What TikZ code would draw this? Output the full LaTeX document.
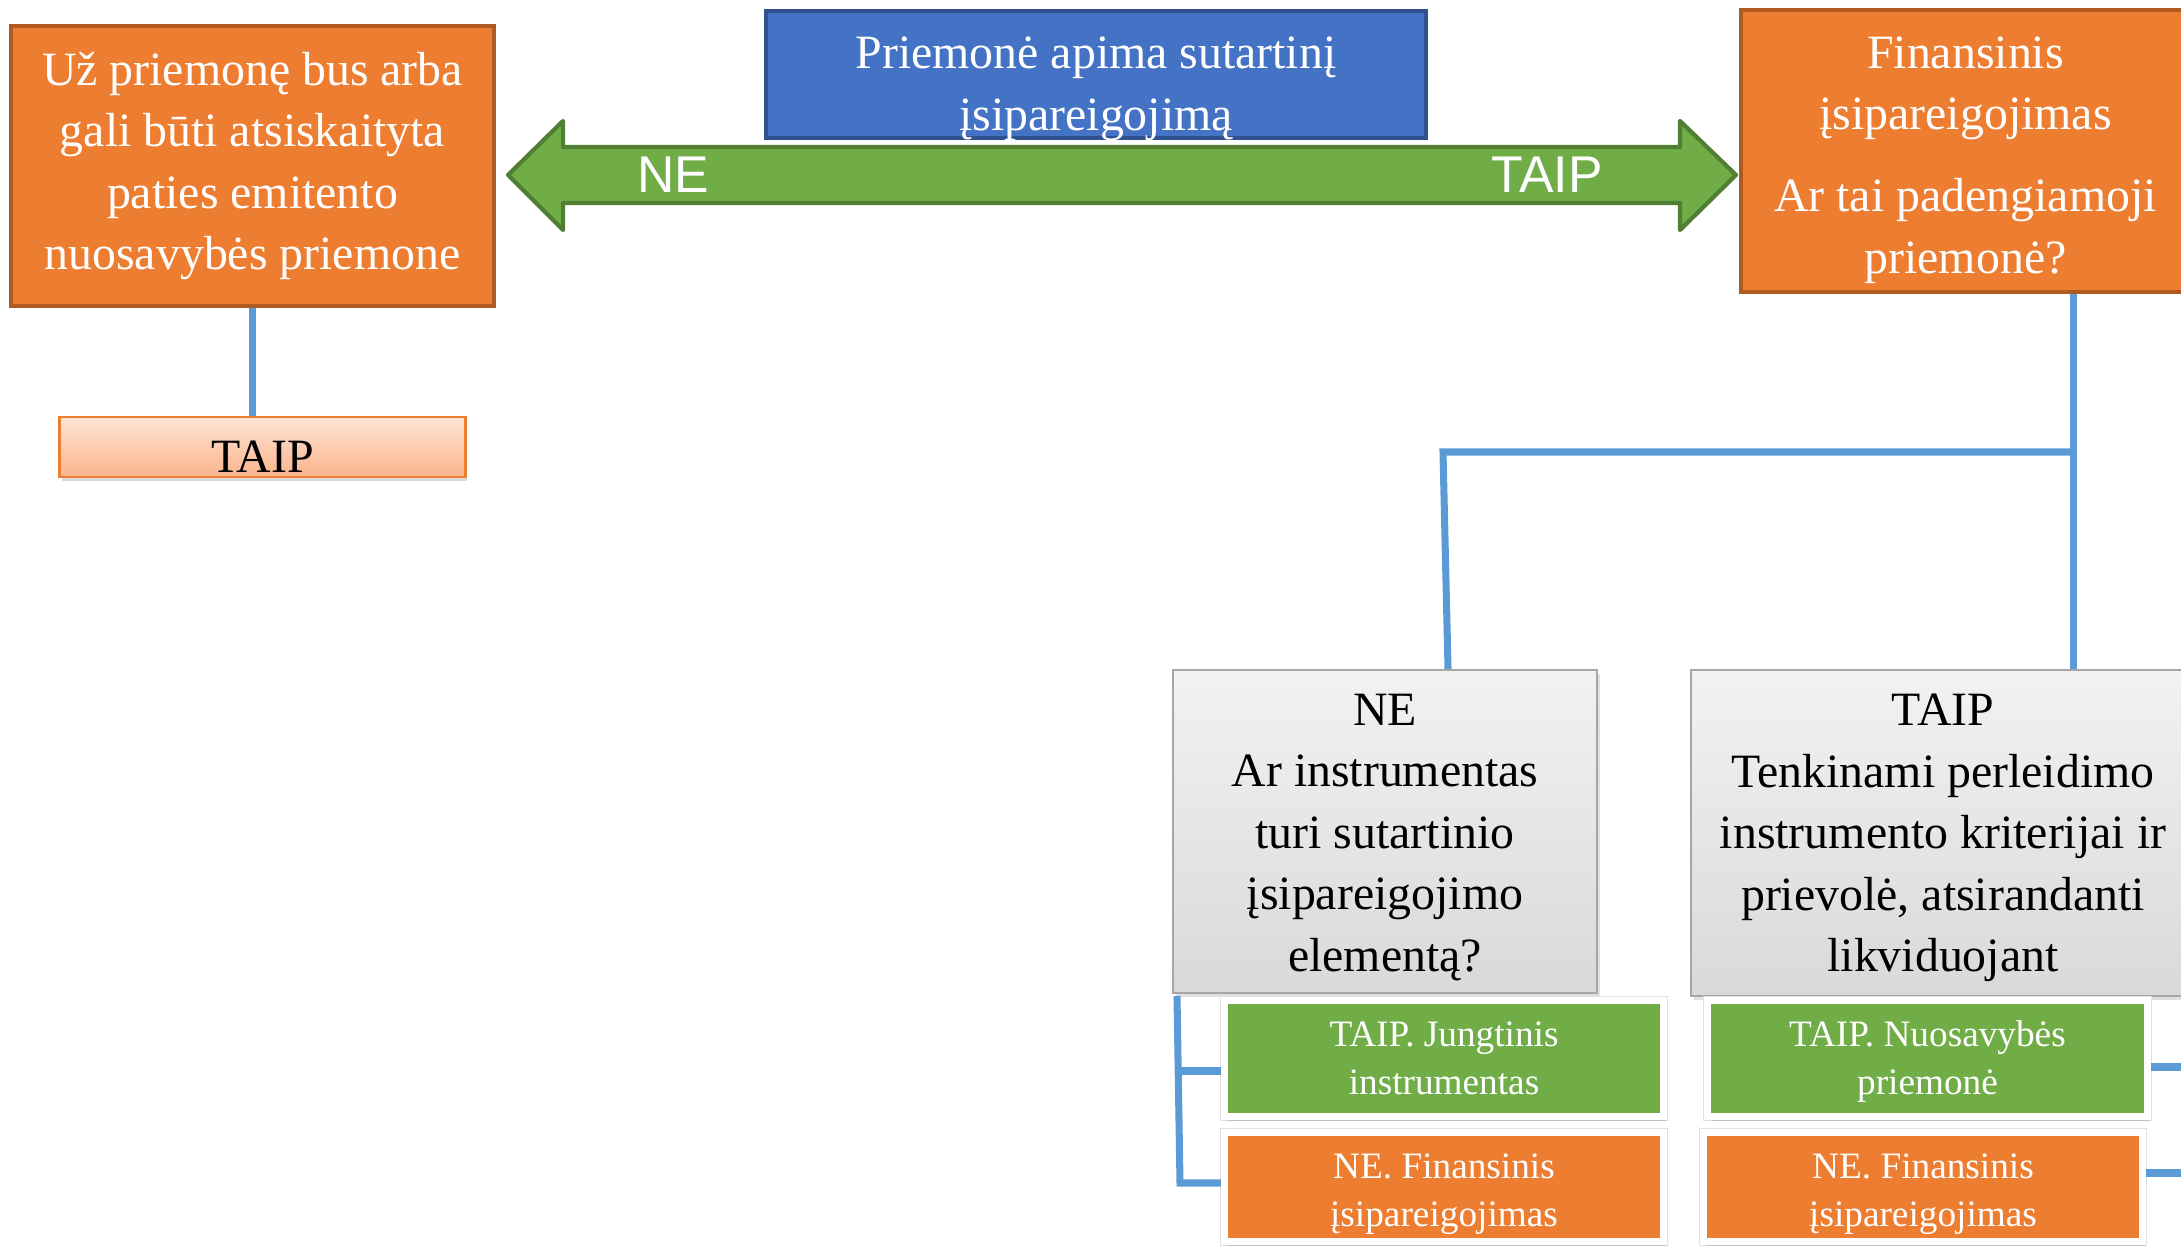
\documentclass[tikz,border=0pt]{standalone}
\usepackage{fontspec}
\setmainfont{Liberation Serif}
\newfontfamily\arrowfont{Liberation Sans}
\usepackage{tikz}
\usetikzlibrary{positioning}
\usetikzlibrary{shadows}

\definecolor{boxorange}{HTML}{ED7D31}
\definecolor{edgeorange}{HTML}{AE5A21}
\definecolor{boxblue}{HTML}{4472C4}
\definecolor{edgeblue}{HTML}{2F528F}
\definecolor{boxgreen}{HTML}{70AD47}
\definecolor{edgegreen}{HTML}{507E32}
\definecolor{linkblue}{HTML}{5B9BD5}
\definecolor{graytop}{HTML}{F2F2F2}
\definecolor{graybot}{HTML}{D9D9D9}
\definecolor{grayedge}{HTML}{A6A6A6}
\definecolor{pinktop}{HTML}{FEE4D6}
\definecolor{pinkbot}{HTML}{FBB48C}

\newcommand{\bigtxt}{\fontsize{13.6}{17.5}\selectfont}
\newcommand{\smalltxt}{\fontsize{10.6}{13.7}\selectfont}

\begin{document}
\begin{tikzpicture}[x=0.01cm, y=-0.01cm,
    every node/.style={inner sep=0pt, align=center},
    qbox/.style={fill=boxorange, draw=edgeorange, line width=1.2pt, text=white, font=\bigtxt},
    topbox/.style={fill=boxblue, draw=edgeblue, line width=1.2pt, text=white, font=\bigtxt},
    graybox/.style={top color=graytop, bottom color=graybot, draw=grayedge, line width=0.5pt,
        font=\bigtxt, drop shadow={shadow xshift=0.8pt, shadow yshift=-1.2pt, opacity=0.25}},
    answer/.style={preaction={draw=black!12, line width=2.6pt}, draw=white, line width=2pt,
        text=white, font=\smalltxt, minimum width=4.39cm,
        drop shadow={shadow xshift=0.8pt, shadow yshift=-1.2pt, opacity=0.3}},
    whitetxt/.style={text=white, font=\bigtxt},
    blacktxt/.style={text=black, font=\bigtxt},
    smalltxt/.style={text=white, font=\smalltxt},
    link/.style={draw=linkblue, line width=2pt},
    arrowlabel/.style={text=white, font=\arrowfont\fontsize{14.7}{17}\selectfont}
]
\useasboundingbox (0,0) rectangle (2181,1246);

% Double arrow
\draw[fill=boxgreen, draw=edgegreen, line width=1.2pt, line join=round]
    (508,175) -- (563,121) -- (563,147) -- (1680,147) -- (1680,121) -- (1736,175)
    -- (1680,230) -- (1680,203) -- (563,203) -- (563,230) -- cycle;
\node[arrowlabel] (ne) at (673,175) {NE};
\node[arrowlabel] (yes) at (1547,175) {TAIP};

% Top row
\node[topbox, minimum width=6.6cm, minimum height=1.27cm,
    label={[whitetxt, yshift=-0.145cm]center:{Priemonė apima sutartinį\\įsipareigojimą}}]
    (contract) at (1096,74.5) {};
\node[qbox, minimum width=4.83cm, minimum height=2.8cm] (equity) at (252.5,166)
    {Už priemonę bus arba\\gali būti atsiskaityta\\paties emitento\\nuosavybės priemone};
\node[qbox, minimum width=4.49cm, minimum height=2.82cm,
    label={[whitetxt, yshift=-0.09cm]center:{Finansinis\\įsipareigojimas\\[0.2cm]Ar tai padengiamoji\\priemonė?}}]
    (liability) at (1965.5,151) {};

% Left branch
\node[top color=pinktop, bottom color=pinkbot, draw=boxorange, line width=0.8pt,
    minimum width=4.05cm, minimum height=0.6cm, font=\bigtxt, text depth=0pt, text height=14.4pt,
    drop shadow={shadow xshift=0.5pt, shadow yshift=-1.2pt, opacity=0.3}] (taipL) at (262.5,447)
    {TAIP};
\draw[link] (equity.south) -- (equity.south |- taipL.north);

% Gray questions
\node[graybox, minimum width=4.24cm, minimum height=3.23cm,
    label={[blacktxt, yshift=-0.06cm]center:{NE\\Ar instrumentas\\turi sutartinio\\įsipareigojimo\\elementą?}}]
    (notcover) at (1385,831.5) {};
\node[graybox, minimum width=5.04cm, minimum height=3.26cm,
    label={[blacktxt, yshift=-0.05cm]center:{TAIP\\Tenkinami perleidimo\\instrumento kriterijai ir\\prievolė, atsirandanti\\likviduojant}}]
    (cover) at (1943,833) {};

\coordinate (split) at (2073,452);
\coordinate (turn) at (1443,452);
\draw[link] (split |- liability.south) -- (split |- cover.north);
\draw[link] (split) -- (turn) -- (1448,668) -- (notcover.north -| 1448,0);

% Answers
\node[answer, fill=boxgreen, minimum height=1.16cm] (compound) at (1444,1058.5)
    {TAIP. Jungtinis\\instrumentas};
\node[answer, fill=boxorange, minimum height=1.09cm,
    label={[smalltxt, yshift=-0.07cm]center:{NE. Finansinis\\įsipareigojimas}}]
    (finA) at (1444,1187) {};
\node[answer, fill=boxgreen, minimum height=1.16cm,
    label={[smalltxt, yshift=-0.03cm]center:{TAIP. Nuosavybės\\priemonė}}]
    (equityB) at (1927.5,1058.5) {};
\node[answer, fill=boxorange, minimum height=1.09cm,
    label={[smalltxt, yshift=-0.07cm]center:{NE. Finansinis\\įsipareigojimas}}]
    (finB) at (1923,1187) {};

% Brackets
\draw[link] (1177,996) -- (1180,1183) -- (finA.west |- 0,1183);
\draw[link] (1178,1071) -- (compound.west |- 0,1071);
\draw[link] (equityB.east |- 0,1067) -- (2181,1067);
\draw[link] (finB.east |- 0,1173) -- (2181,1173);

\end{tikzpicture}
\end{document}
